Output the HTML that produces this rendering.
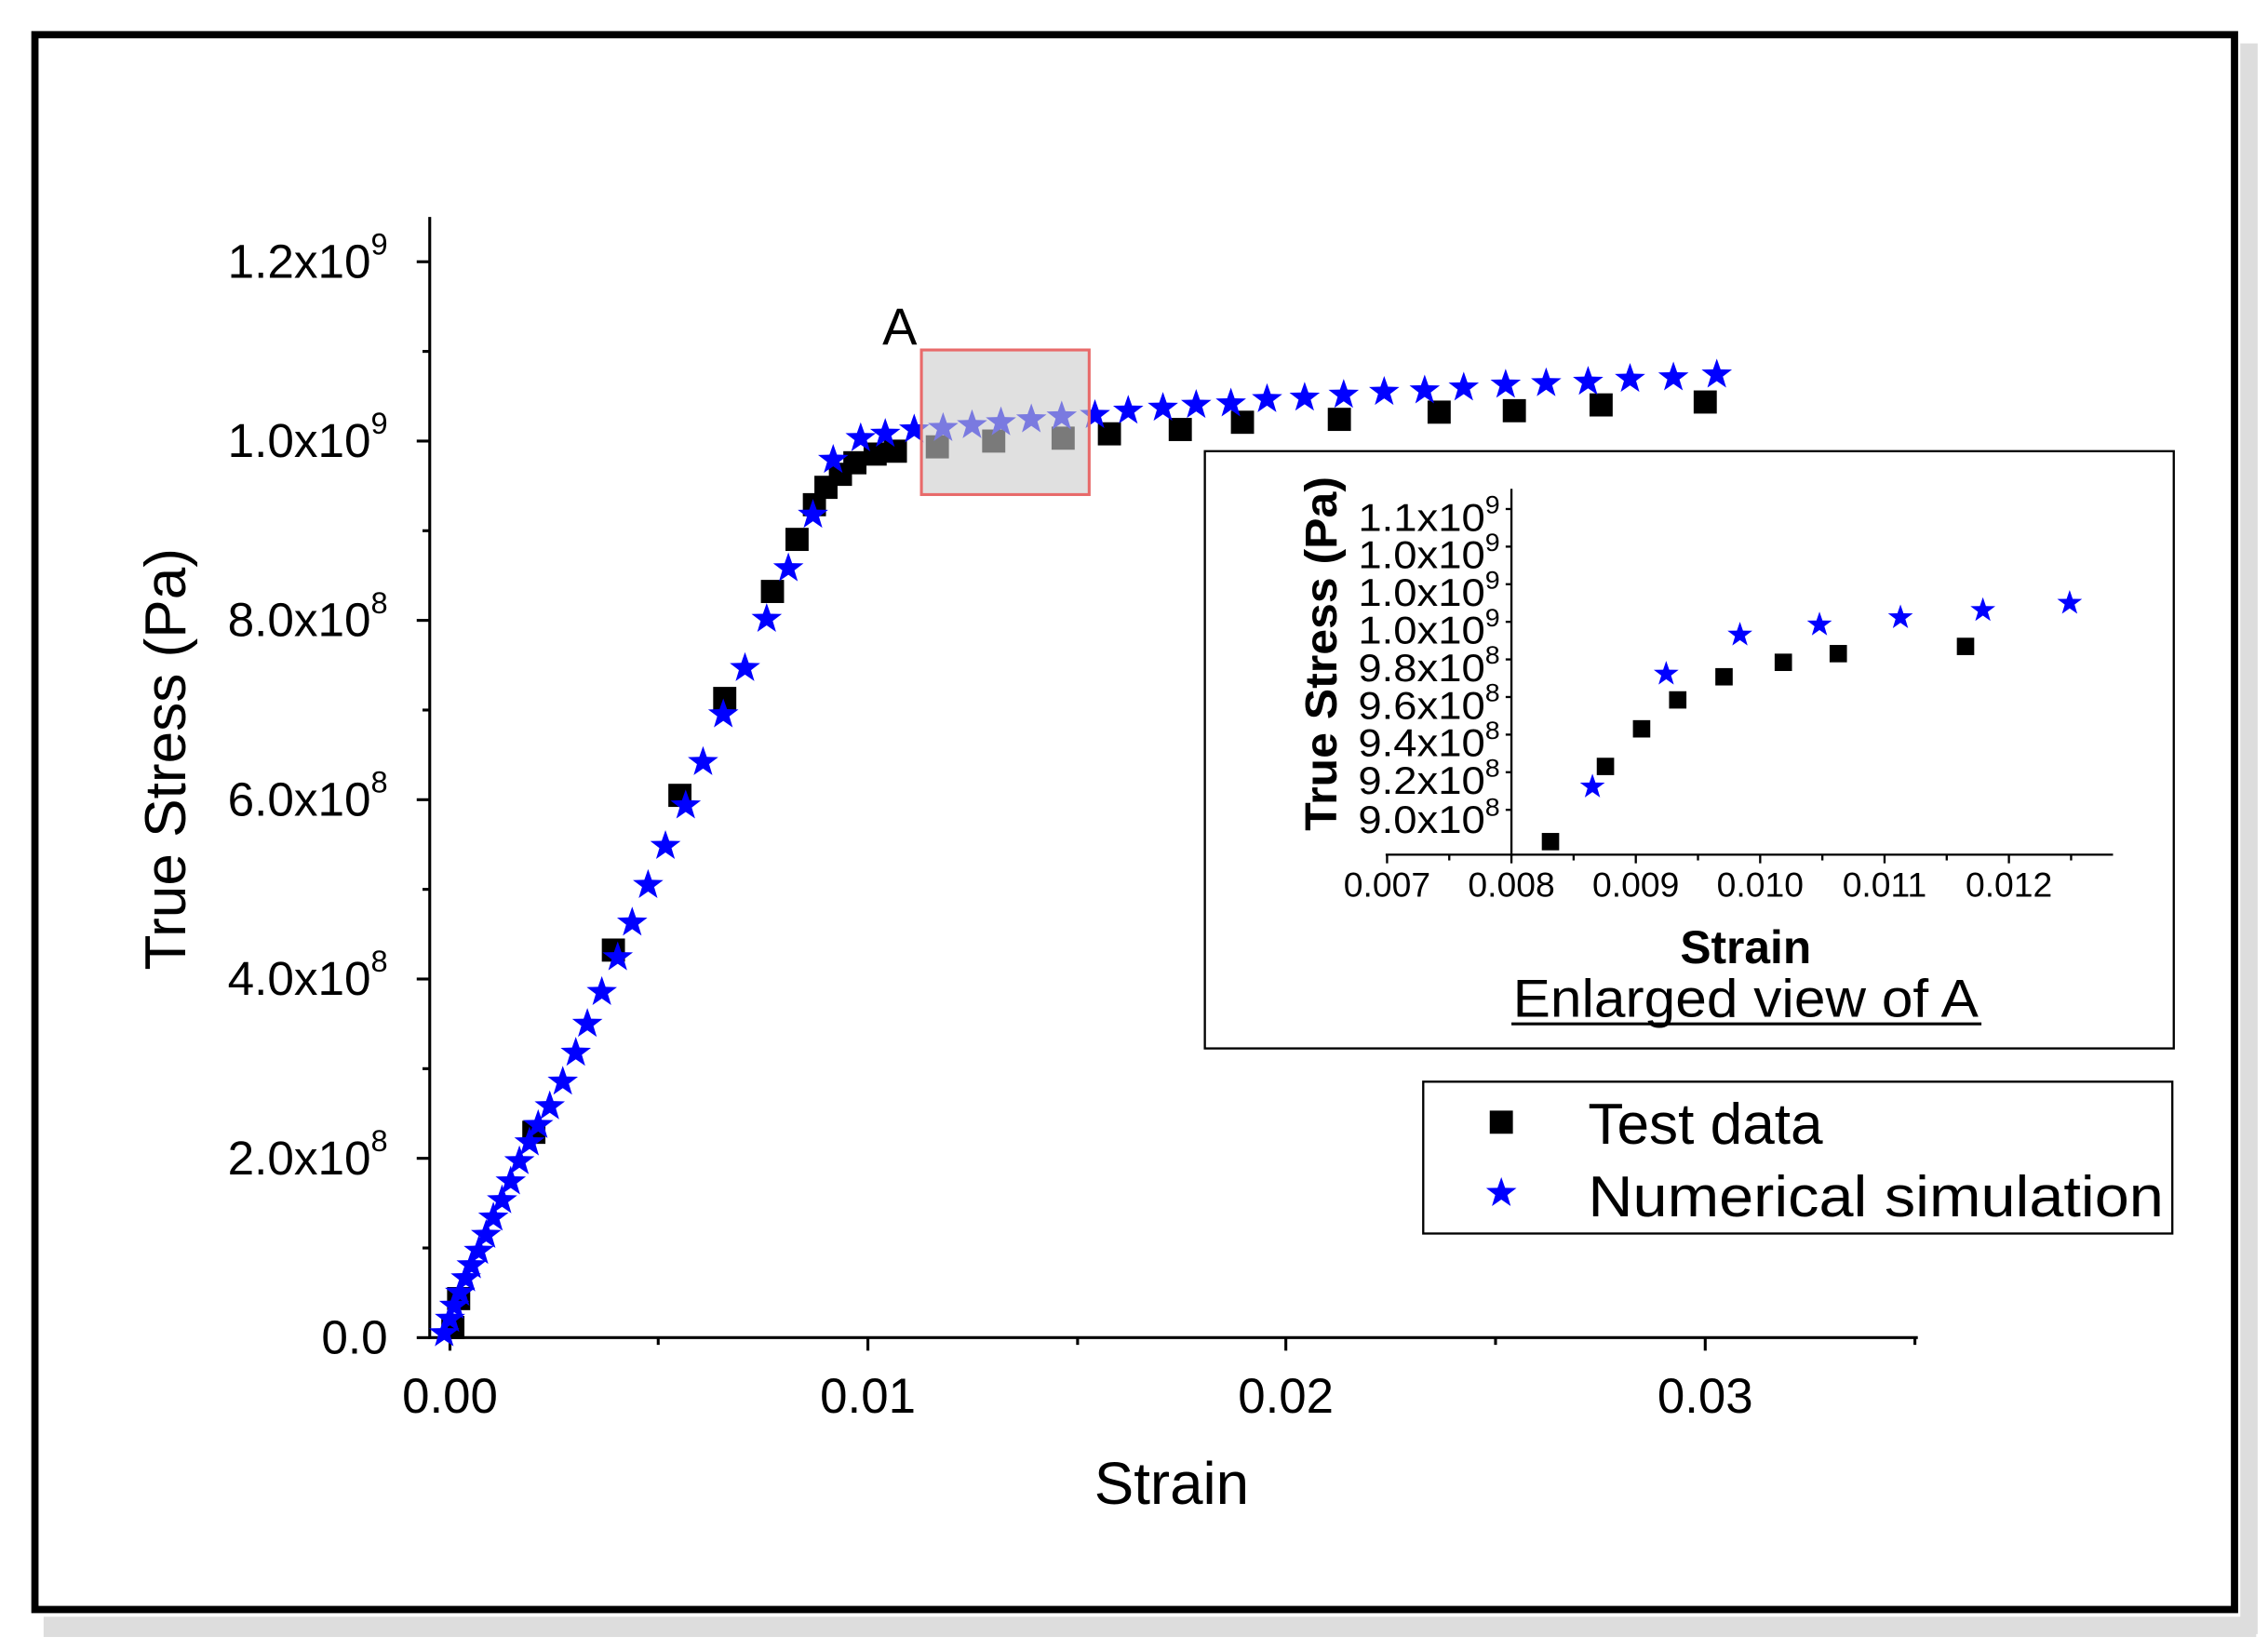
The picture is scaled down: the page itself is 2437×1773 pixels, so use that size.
<!DOCTYPE html>
<html><head><meta charset="utf-8"><style>html,body{margin:0;padding:0;background:#fff}svg{display:block}text{font-family:"Liberation Sans",sans-serif}</style></head><body>
<svg width="2437" height="1773" viewBox="0 0 1568 1141" xmlns="http://www.w3.org/2000/svg">
<defs>
<polygon id="st" points="0,-11 2.6,-3.6 10.5,-3.4 4.2,1.4 6.5,9 0,4.5 -6.5,9 -4.2,1.4 -10.5,-3.4 -2.6,-3.6" fill="#0000ff"/>
<polygon id="ss" points="0,-9 2.1,-2.9 8.6,-2.8 3.4,1.1 5.3,7.4 0,3.7 -5.3,7.4 -3.4,1.1 -8.6,-2.8 -2.1,-2.9" fill="#0000ff"/>
<rect id="sq" x="-8" y="-8" width="16" height="16" fill="#000"/>
<rect id="sqs" x="-6" y="-6" width="12" height="12" fill="#000"/>
</defs>
<rect x="0" y="0" width="1568" height="1141" fill="#fff"/>
<rect x="30" y="1118" width="1530" height="14" fill="#ddd"/>
<rect x="1549" y="30" width="12" height="1100" fill="#ddd"/>
<rect x="24" y="24" width="1521" height="1089" fill="#fff" stroke="#000" stroke-width="5"/>
<g stroke="#000" stroke-width="2" fill="none">
<line x1="297" y1="150" x2="297" y2="926"/>
<line x1="296" y1="925" x2="1326" y2="925"/>
<line x1="288" y1="925" x2="297" y2="925"/><line x1="288" y1="801" x2="297" y2="801"/><line x1="288" y1="677" x2="297" y2="677"/><line x1="288" y1="553" x2="297" y2="553"/><line x1="288" y1="429" x2="297" y2="429"/><line x1="288" y1="305" x2="297" y2="305"/><line x1="288" y1="181" x2="297" y2="181"/>
<line x1="292" y1="863" x2="297" y2="863"/><line x1="292" y1="739" x2="297" y2="739"/><line x1="292" y1="615" x2="297" y2="615"/><line x1="292" y1="491" x2="297" y2="491"/><line x1="292" y1="367" x2="297" y2="367"/><line x1="292" y1="243" x2="297" y2="243"/>
<line x1="311" y1="925" x2="311" y2="934"/><line x1="600" y1="925" x2="600" y2="934"/><line x1="889" y1="925" x2="889" y2="934"/><line x1="1179" y1="925" x2="1179" y2="934"/>
<line x1="455" y1="925" x2="455" y2="930"/><line x1="745" y1="925" x2="745" y2="930"/><line x1="1034" y1="925" x2="1034" y2="930"/><line x1="1324" y1="925" x2="1324" y2="930"/>
</g>
<g font-size="33" text-anchor="end" fill="#000">
<text x="268" y="936">0.0</text>
<text x="268" y="812">2.0x10<tspan font-size="21" dy="-16">8</tspan></text>
<text x="268" y="688">4.0x10<tspan font-size="21" dy="-16">8</tspan></text>
<text x="268" y="564">6.0x10<tspan font-size="21" dy="-16">8</tspan></text>
<text x="268" y="440">8.0x10<tspan font-size="21" dy="-16">8</tspan></text>
<text x="268" y="316">1.0x10<tspan font-size="21" dy="-16">9</tspan></text>
<text x="268" y="192">1.2x10<tspan font-size="21" dy="-16">9</tspan></text>
</g>
<g font-size="34" text-anchor="middle">
<text x="311" y="977">0.00</text><text x="600" y="977">0.01</text><text x="889" y="977">0.02</text><text x="1179" y="977">0.03</text>
</g>
<text x="810" y="1040" font-size="41" text-anchor="middle">Strain</text>
<text transform="translate(128,525) rotate(-90)" font-size="40" text-anchor="middle">True Stress (Pa)</text>
<g>
<use href="#sq" x="313" y="918"/><use href="#sq" x="317" y="898"/>
<use href="#sq" x="369" y="783"/><use href="#sq" x="424" y="657"/><use href="#sq" x="470" y="550"/><use href="#sq" x="501" y="483"/><use href="#sq" x="534" y="409"/><use href="#sq" x="551" y="373"/><use href="#sq" x="563" y="349"/><use href="#sq" x="571" y="337"/><use href="#sq" x="581" y="328"/><use href="#sq" x="591" y="320"/><use href="#sq" x="605" y="314"/><use href="#sq" x="619" y="312"/><use href="#sq" x="648" y="309"/><use href="#sq" x="687" y="305"/><use href="#sq" x="735" y="303"/><use href="#sq" x="767" y="300"/><use href="#sq" x="816" y="297"/><use href="#sq" x="859" y="292"/><use href="#sq" x="926" y="290"/><use href="#sq" x="995" y="285"/><use href="#sq" x="1047" y="284"/><use href="#sq" x="1107" y="280"/><use href="#sq" x="1179" y="278"/>
</g>
<g>
<use href="#st" x="307" y="922"/><use href="#st" x="311" y="912"/><use href="#st" x="314" y="903"/><use href="#st" x="318" y="894"/><use href="#st" x="322" y="884"/><use href="#st" x="326" y="875"/><use href="#st" x="331" y="865"/><use href="#st" x="336" y="854"/><use href="#st" x="341" y="842"/><use href="#st" x="347" y="830"/><use href="#st" x="353" y="817"/><use href="#st" x="359" y="803"/><use href="#st" x="366" y="790"/><use href="#st" x="372" y="778"/><use href="#st" x="380" y="765"/><use href="#st" x="389" y="748"/><use href="#st" x="398" y="728"/><use href="#st" x="406" y="708"/><use href="#st" x="416" y="686"/><use href="#st" x="427" y="662"/><use href="#st" x="437" y="638"/><use href="#st" x="448" y="612"/><use href="#st" x="460" y="585"/><use href="#st" x="474" y="557"/><use href="#st" x="486" y="527"/><use href="#st" x="500" y="494"/><use href="#st" x="515" y="462"/><use href="#st" x="530" y="428"/><use href="#st" x="545" y="393"/><use href="#st" x="562" y="356"/><use href="#st" x="576" y="318"/><use href="#st" x="595" y="303"/><use href="#st" x="612" y="300"/><use href="#st" x="632" y="297"/><use href="#st" x="652" y="296"/><use href="#st" x="672" y="294"/><use href="#st" x="692" y="292"/><use href="#st" x="713" y="290"/><use href="#st" x="734" y="288"/><use href="#st" x="757" y="287"/><use href="#st" x="780" y="284"/><use href="#st" x="804" y="282"/><use href="#st" x="827" y="280"/><use href="#st" x="851" y="279"/><use href="#st" x="876" y="276"/><use href="#st" x="902" y="275"/><use href="#st" x="929" y="273"/><use href="#st" x="957" y="271"/><use href="#st" x="985" y="270"/><use href="#st" x="1012" y="268"/><use href="#st" x="1041" y="266"/><use href="#st" x="1069" y="265"/><use href="#st" x="1098" y="264"/><use href="#st" x="1127" y="262"/><use href="#st" x="1157" y="261"/><use href="#st" x="1187" y="259"/>
</g>
<rect x="637" y="242" width="116" height="100" fill="#cccccc" fill-opacity="0.6" stroke="#e86a6a" stroke-width="2"/>
<text x="622" y="238" font-size="36" text-anchor="middle">A</text>
<rect x="833" y="312" width="670" height="413" fill="#fff" stroke="#000" stroke-width="1.5"/>
<g stroke="#000" stroke-width="1.5">
<line x1="1045" y1="338" x2="1045" y2="592"/>
<line x1="958" y1="591" x2="1461" y2="591"/>
<line x1="959" y1="591" x2="959" y2="597"/><line x1="1045" y1="591" x2="1045" y2="597"/><line x1="1131" y1="591" x2="1131" y2="597"/><line x1="1217" y1="591" x2="1217" y2="597"/><line x1="1303" y1="591" x2="1303" y2="597"/><line x1="1389" y1="591" x2="1389" y2="597"/>
<line x1="1002" y1="591" x2="1002" y2="595"/><line x1="1088" y1="591" x2="1088" y2="595"/><line x1="1174" y1="591" x2="1174" y2="595"/><line x1="1260" y1="591" x2="1260" y2="595"/><line x1="1346" y1="591" x2="1346" y2="595"/><line x1="1432" y1="591" x2="1432" y2="595"/>
<line x1="1041" y1="352" x2="1045" y2="352"/><line x1="1041" y1="378" x2="1045" y2="378"/><line x1="1041" y1="404" x2="1045" y2="404"/><line x1="1041" y1="430" x2="1045" y2="430"/><line x1="1041" y1="456" x2="1045" y2="456"/><line x1="1041" y1="482" x2="1045" y2="482"/><line x1="1041" y1="508" x2="1045" y2="508"/><line x1="1041" y1="534" x2="1045" y2="534"/><line x1="1041" y1="560" x2="1045" y2="560"/>
</g>
<g font-size="27" text-anchor="end">
<text x="1037" y="367" textLength="98" lengthAdjust="spacingAndGlyphs">1.1x10<tspan font-size="17" dy="-12">9</tspan></text>
<text x="1037" y="393" textLength="98" lengthAdjust="spacingAndGlyphs">1.0x10<tspan font-size="17" dy="-12">9</tspan></text>
<text x="1037" y="419" textLength="98" lengthAdjust="spacingAndGlyphs">1.0x10<tspan font-size="17" dy="-12">9</tspan></text>
<text x="1037" y="445" textLength="98" lengthAdjust="spacingAndGlyphs">1.0x10<tspan font-size="17" dy="-12">9</tspan></text>
<text x="1037" y="471" textLength="98" lengthAdjust="spacingAndGlyphs">9.8x10<tspan font-size="17" dy="-12">8</tspan></text>
<text x="1037" y="497" textLength="98" lengthAdjust="spacingAndGlyphs">9.6x10<tspan font-size="17" dy="-12">8</tspan></text>
<text x="1037" y="523" textLength="98" lengthAdjust="spacingAndGlyphs">9.4x10<tspan font-size="17" dy="-12">8</tspan></text>
<text x="1037" y="549" textLength="98" lengthAdjust="spacingAndGlyphs">9.2x10<tspan font-size="17" dy="-12">8</tspan></text>
<text x="1037" y="576" textLength="98" lengthAdjust="spacingAndGlyphs">9.0x10<tspan font-size="17" dy="-12">8</tspan></text>
</g>
<g font-size="24" text-anchor="middle">
<text x="959" y="620">0.007</text><text x="1045" y="620">0.008</text><text x="1131" y="620">0.009</text><text x="1217" y="620">0.010</text><text x="1303" y="620">0.011</text><text x="1389" y="620">0.012</text>
</g>
<text transform="translate(924,452) rotate(-90)" font-size="31" font-weight="bold" text-anchor="middle" textLength="245" lengthAdjust="spacingAndGlyphs">True Stress (Pa)</text>
<text x="1207" y="666" font-size="32" font-weight="bold" text-anchor="middle">Strain</text>
<text x="1207" y="703" font-size="37" text-anchor="middle" textLength="322" lengthAdjust="spacingAndGlyphs">Enlarged view of A</text>
<line x1="1045" y1="708" x2="1370" y2="708" stroke="#000" stroke-width="2"/>
<use href="#sqs" x="1072" y="582"/><use href="#sqs" x="1110" y="530"/><use href="#sqs" x="1135" y="504"/><use href="#sqs" x="1160" y="484"/><use href="#sqs" x="1192" y="468"/><use href="#sqs" x="1233" y="458"/><use href="#sqs" x="1271" y="452"/><use href="#sqs" x="1359" y="447"/>
<use href="#ss" x="1101" y="544"/><use href="#ss" x="1152" y="466"/><use href="#ss" x="1203" y="439"/><use href="#ss" x="1258" y="432"/><use href="#ss" x="1314" y="427"/><use href="#ss" x="1371" y="422"/><use href="#ss" x="1431" y="417"/>
<rect x="984" y="748" width="518" height="105" fill="#fff" stroke="#000" stroke-width="1.5"/>
<use href="#sq" x="1038" y="776"/>
<use href="#st" x="1038" y="825"/>
<text x="1098" y="791" font-size="40">Test data</text>
<text x="1098" y="841" font-size="40" textLength="398" lengthAdjust="spacingAndGlyphs">Numerical simulation</text>
</svg>
</body></html>
